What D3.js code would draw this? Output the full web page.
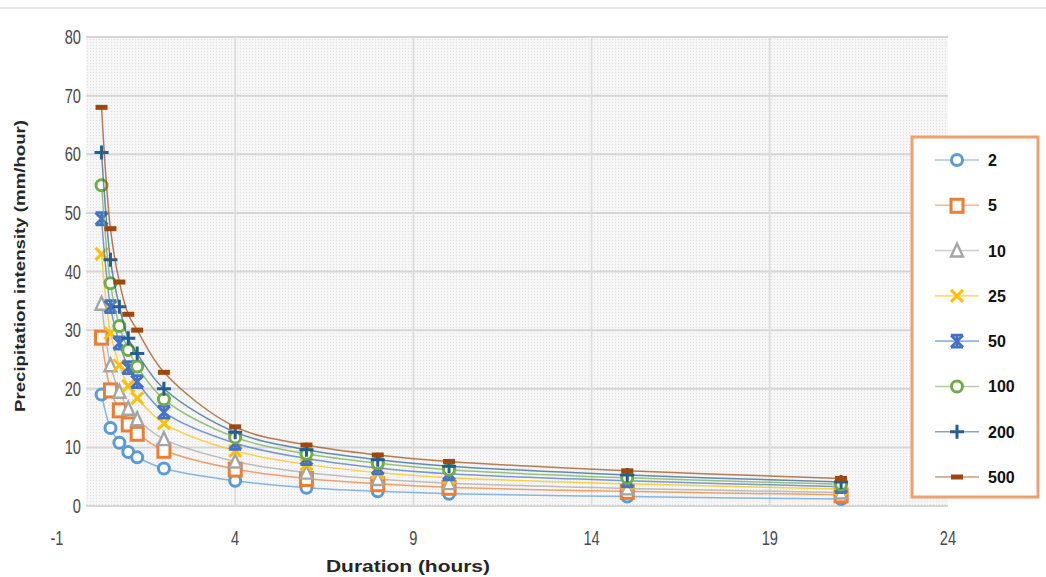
<!DOCTYPE html>
<html>
<head>
<meta charset="utf-8">
<script src="https://cdn.jsdelivr.net/npm/d3@7"></script>
<style>
    body { margin: 0; background: #fff; }
    svg { display: block; }
</style>
</head>
<body>
<div id="chart"></div>
<script>
// Return periods (years) and durations (hours)
const periods = ["2", "5", "10", "25", "50", "100", "200", "500"]
const durations = [0.25, 0.5, 0.75, 1, 1.25, 2, 4, 6, 8, 10, 15, 21]

// Intensity values (mm/hour)
const i2   = [19.0, 13.3, 10.8, 9.2, 8.3, 6.4, 4.3, 3.1, 2.5, 2.1, 1.6, 1.2]
const i5   = [28.8, 19.8, 16.4, 14.0, 12.4, 9.5, 6.3, 4.7, 3.8, 3.2, 2.5, 1.9]
const i10  = [34.5, 24.0, 19.5, 16.6, 14.8, 11.4, 7.6, 5.7, 4.6, 3.9, 3.0, 2.3]
const i25  = [43.0, 29.5, 24.0, 20.5, 18.4, 14.1, 9.4, 7.1, 5.7, 4.8, 3.8, 2.9]
const i50  = [49.0, 34.0, 27.8, 23.6, 21.2, 16.0, 10.7, 8.1, 6.5, 5.5, 4.3, 3.3]
const i100 = [54.7, 38.0, 30.7, 26.6, 23.8, 18.2, 11.7, 8.9, 7.3, 6.2, 4.8, 3.7]
const i200 = [60.3, 42.0, 34.0, 28.6, 26.0, 20.0, 12.6, 9.6, 7.9, 6.8, 5.3, 4.1]
const i500 = [68.0, 47.3, 38.2, 32.7, 30.0, 22.8, 13.5, 10.4, 8.7, 7.6, 6.0, 4.7]

const xTicks = [-1, 4, 9, 14, 19, 24]
const yTicks = [0, 10, 20, 30, 40, 50, 60, 70, 80]

const seriesValues = [i2, i5, i10, i25, i50, i100, i200, i500]
const colors = ["#5B9BD5", "#ED7D31", "#A5A5A5", "#FFC000", "#4472C4", "#70AD47", "#255E91", "#9E480E"]
const markers = ["circle", "square", "triangle", "x", "star", "circle", "plus", "dash"]

const W = 1046, H = 577

let svg = d3.select("#chart").append("svg")
    .attr("width", W)
    .attr("height", H)

// dotted plot background
let defs = svg.append("defs")
let pat = defs.append("pattern")
    .attr("id", "dots")
    .attr("width", 3).attr("height", 3)
    .attr("patternUnits", "userSpaceOnUse")
pat.append("rect").attr("width", 3).attr("height", 3).attr("fill", "#f6f6f6")
pat.append("rect").attr("width", 1).attr("height", 1).attr("fill", "#e0e0e0")

// top border line of the screenshot
svg.append("line")
    .attr("x1", 0).attr("x2", W)
    .attr("y1", 8).attr("y2", 8)
    .attr("stroke", "#e2e2e2").attr("stroke-width", 1.5)

let x = d3.scaleLinear().domain([-1, 24]).range([57, 948])
let y = d3.scaleLinear().domain([0, 80]).range([506, 37])

let plotLeft = 86
svg.append("rect")
    .attr("x", plotLeft).attr("y", y(80))
    .attr("width", x(24) - plotLeft).attr("height", y(0) - y(80))
    .attr("fill", "url(#dots)")

// gridlines
svg.append("g")
    .selectAll("line")
    .data(yTicks)
    .join("line")
    .attr("x1", plotLeft).attr("x2", x(24))
    .attr("y1", d => y(d)).attr("y2", d => y(d))
    .attr("stroke", "#d6d6d6").attr("stroke-width", 2)

svg.append("g")
    .selectAll("line")
    .data(xTicks.filter(d => d > -1 && d < 24))
    .join("line")
    .attr("x1", d => x(d)).attr("x2", d => x(d))
    .attr("y1", y(80)).attr("y2", y(0))
    .attr("stroke", "#dcdcdc").attr("stroke-width", 1.6)

// tick labels (narrow, tall glyphs as in the screenshot)
let tickFont = "'Liberation Sans', Arial, sans-serif"
svg.append("g")
    .selectAll("text")
    .data(yTicks)
    .join("text")
    .attr("transform", d => `translate(81,${y(d) + 7}) scale(0.7,1)`)
    .attr("text-anchor", "end")
    .attr("font-family", tickFont)
    .attr("font-size", 21)
    .attr("fill", "#4a4a4a")
    .text(d => d)

svg.append("g")
    .selectAll("text")
    .data(xTicks)
    .join("text")
    .attr("transform", d => `translate(${x(d)},545) scale(0.7,1)`)
    .attr("text-anchor", "middle")
    .attr("font-family", tickFont)
    .attr("font-size", 21)
    .attr("fill", "#4a4a4a")
    .text(d => d)

// axis titles
svg.append("text")
    .attr("x", 408).attr("y", 572)
    .attr("text-anchor", "middle")
    .attr("font-family", "'Liberation Sans', Arial, sans-serif")
    .attr("font-weight", "bold")
    .attr("font-size", 16)
    .attr("fill", "#262626")
    .attr("textLength", 164).attr("lengthAdjust", "spacingAndGlyphs")
    .text("Duration (hours)")

svg.append("text")
    .attr("transform", "translate(25,266) rotate(-90)")
    .attr("text-anchor", "middle")
    .attr("font-family", "'Liberation Sans', Arial, sans-serif")
    .attr("font-weight", "bold")
    .attr("font-size", 15)
    .attr("fill", "#262626")
    .attr("textLength", 292).attr("lengthAdjust", "spacingAndGlyphs")
    .text("Precipitation intensity (mm/hour)")

// marker drawing
function drawMarker(g, type, color, s) {
    let h = s / 2
    if (type === "circle") {
        g.append("circle").attr("r", h - 0.5)
            .attr("fill", "#fff").attr("stroke", color).attr("stroke-width", 3)
    } else if (type === "square") {
        g.append("rect").attr("x", -h).attr("y", -h).attr("width", s).attr("height", s + 1)
            .attr("fill", "#fff").attr("stroke", color).attr("stroke-width", 3)
    } else if (type === "triangle") {
        g.append("path").attr("d", `M0,${-h - 1}L${h},${h}L${-h},${h}Z`)
            .attr("fill", "#fff").attr("stroke", color).attr("stroke-width", 2.4)
    } else if (type === "x") {
        g.append("path").attr("d", `M${-h},${-h}L${h},${h}M${h},${-h}L${-h},${h}`)
            .attr("stroke", color).attr("stroke-width", 3)
    } else if (type === "star") {
        g.append("path").attr("d", `M${-h},${-h}L${h},${h}M${h},${-h}L${-h},${h}M${-h},${-h}H${h}M${-h},${h}H${h}M0,${-h}V${h}`)
            .attr("stroke", color).attr("stroke-width", 2.8)
    } else if (type === "plus") {
        g.append("path").attr("d", `M${-h - 1},0H${h + 1}M0,${-h - 1}V${h + 1}`)
            .attr("stroke", color).attr("stroke-width", 3)
    } else if (type === "dash") {
        g.append("rect").attr("x", -h).attr("y", -2.5).attr("width", s).attr("height", 5)
            .attr("fill", color)
    }
}

let line = d3.line()
    .x(d => x(d[0]))
    .y(d => y(d[1]))
    .curve(d3.curveCatmullRom.alpha(0.5))

let plot = svg.append("g")
seriesValues.forEach((vals, i) => {
    let pts = durations.map((d, j) => [d, vals[j]])
    let g = plot.append("g")
    g.append("path")
        .attr("d", line(pts))
        .attr("fill", "none")
        .attr("stroke", colors[i])
        .attr("stroke-opacity", 0.7)
        .attr("stroke-width", 1.5)
    g.selectAll("g")
        .data(pts)
        .join("g")
        .attr("transform", d => `translate(${x(d[0])},${y(d[1])})`)
        .each(function() { drawMarker(d3.select(this), markers[i], colors[i], 12) })
})

// legend
let legend = svg.append("g")
legend.append("rect")
    .attr("x", 912).attr("y", 137)
    .attr("width", 126).attr("height", 360)
    .attr("fill", "#fff")
    .attr("stroke", "#F0A070").attr("stroke-width", 3)

let legendY = d3.scalePoint().domain(periods).range([160, 477])
periods.forEach((p, i) => {
    let ly = legendY(p)
    legend.append("line")
        .attr("x1", 935).attr("x2", 979)
        .attr("y1", ly).attr("y2", ly)
        .attr("stroke", colors[i]).attr("stroke-opacity", 0.55).attr("stroke-width", 1.6)
    let mg = legend.append("g").attr("transform", `translate(957,${ly})`)
    drawMarker(mg, markers[i], colors[i], 12)
    legend.append("text")
        .attr("x", 988).attr("y", ly + 6)
        .attr("font-family", "'Liberation Sans', Arial, sans-serif")
        .attr("font-weight", "bold")
        .attr("font-size", 16)
        .attr("fill", "#111")
        .text(p)
})
</script>
</body>
</html>
